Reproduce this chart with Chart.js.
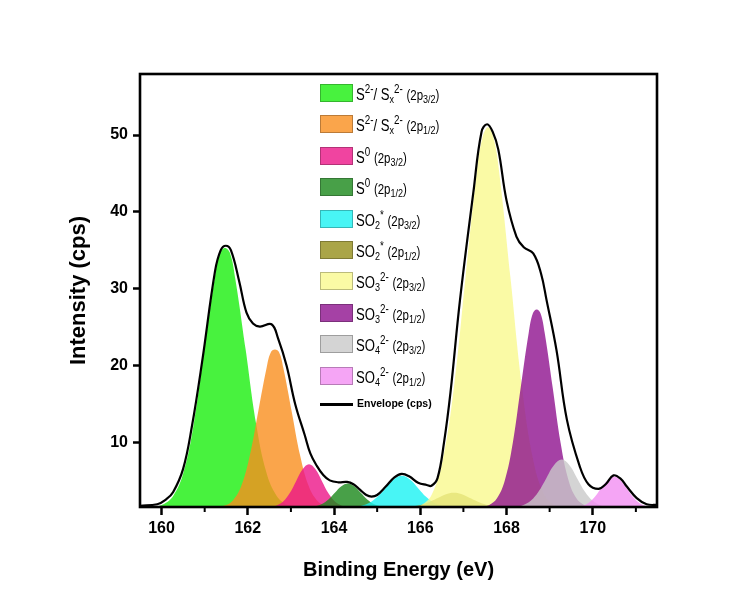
<!DOCTYPE html>
<html>
<head>
<meta charset="utf-8">
<script src="https://cdn.jsdelivr.net/npm/chart.js@4.4.1/dist/chart.umd.min.js"></script>
<style>
  html, body { margin: 0; padding: 0; background: #fff; }
  #wrap { position: relative; width: 750px; height: 603px; }
  .row { position: absolute; left: 320px; height: 18px; }
  .sw { position: absolute; left: 0; top: 0; width: 33px; height: 18px; box-sizing: border-box; border: 1px solid rgba(0,0,0,0.25); }
  .tx { position: absolute; left: 36px; top: 2px; white-space: nowrap; color: #000;
        font: 16px "Liberation Sans", Arial, sans-serif; line-height: 18px;
        transform: scaleX(0.82); transform-origin: left center; }
  .tx sup { font-size: 12px; vertical-align: 7px; line-height: 0; }
  .tx sub { font-size: 11px; vertical-align: -3px; line-height: 0; }
  .tx .p { font-size: 14px; }
  .env { position: absolute; left: 320px; top: 403px; width: 33px; height: 2.5px; background: #000; }
  .envtx { position: absolute; left: 357px; top: 397px; font: bold 10.5px "Liberation Sans", Arial, sans-serif; white-space: nowrap; }
</style>
</head>
<body>
<div id="wrap">
  <canvas id="c" width="750" height="603"></canvas>
</div>
<script>
// peak fits: [binding energy, intensity]
const s2_p32 = [[159.5,1.6],[159.8,1.65],[160.03,1.97],[160.27,3.08],[160.51,6.15],[160.75,12.55],[160.99,22.1],[161.23,31.3],[161.35,34.6],[161.47,35.3],[161.59,34.6],[161.71,31.3],[161.95,22.1],[162.19,12.55],[162.43,6.15],[162.67,3.08],[162.91,1.97],[163.2,1.65],[163.6,1.6]];
const s2_p12 = [[161.2,1.6],[161.46,1.83],[161.655,2.5],[161.85,4.4],[162.045,8.3],[162.24,14.0],[162.435,19.7],[162.53,21.7],[162.63,22.1],[162.73,21.7],[162.825,19.7],[163.02,14.0],[163.215,8.3],[163.41,4.4],[163.605,2.5],[163.8,1.83],[164.1,1.6]];
const s0_p32 = [[162.4,1.6],[162.52,1.66],[162.67,1.85],[162.82,2.36],[162.97,3.42],[163.12,5.0],[163.27,6.54],[163.42,7.2],[163.57,6.54],[163.72,5.0],[163.87,3.42],[164.02,2.36],[164.17,1.85],[164.32,1.66],[164.5,1.6]];
const s0_p12 = [[163.3,1.6],[163.42,1.63],[163.57,1.74],[163.72,2.02],[163.87,2.6],[164.02,3.48],[164.17,4.33],[164.32,4.7],[164.47,4.33],[164.62,3.48],[164.77,2.6],[164.92,2.02],[165.07,1.74],[165.22,1.63],[165.4,1.6]];
const so2_p32 = [[164.3,1.6],[164.43,1.65],[164.62,1.78],[164.81,2.15],[165.0,2.93],[165.19,4.09],[165.38,5.22],[165.57,5.7],[165.76,5.22],[165.95,4.09],[166.14,2.93],[166.33,2.15],[166.52,1.78],[166.71,1.65],[166.9,1.6]];
const so2_p12 = [[165.4,1.6],[165.58,1.62],[165.78,1.68],[165.98,1.86],[166.18,2.22],[166.38,2.75],[166.58,3.28],[166.78,3.5],[166.98,3.28],[167.18,2.75],[167.38,2.22],[167.58,1.86],[167.78,1.68],[167.98,1.62],[168.2,1.6]];
const so3_p32 = [[165.5,1.6],[165.75,1.63],[166.01,1.85],[166.27,3.3],[166.53,8.0],[166.79,17.65],[167.05,31.55],[167.31,45.2],[167.44,49.6],[167.57,51.0],[167.7,49.6],[167.83,45.2],[168.09,31.55],[168.35,17.65],[168.61,8.0],[168.87,3.3],[169.13,1.85],[169.39,1.63],[169.7,1.6]];
const so3_p12 = [[167.2,1.6],[167.4,1.65],[167.59,1.88],[167.775,2.73],[167.96,5.07],[168.145,9.95],[168.33,17.2],[168.515,24.3],[168.61,26.8],[168.7,27.3],[168.79,26.8],[168.885,24.3],[169.07,17.2],[169.255,9.95],[169.44,5.07],[169.625,2.73],[169.81,1.88],[170.0,1.65],[170.2,1.6]];
const so4_p32 = [[168.1,1.6],[168.2,1.67],[168.38,1.87],[168.56,2.44],[168.74,3.62],[168.92,5.36],[169.1,7.07],[169.28,7.8],[169.46,7.07],[169.64,5.36],[169.82,3.62],[170.0,2.44],[170.18,1.87],[170.36,1.67],[170.55,1.6]];
const so4_p12 = [[169.5,1.6],[169.59,1.64],[169.74,1.78],[169.89,2.14],[170.04,2.9],[170.19,4.03],[170.34,5.13],[170.49,5.6],[170.64,5.13],[170.79,4.03],[170.94,2.9],[171.09,2.14],[171.24,1.78],[171.39,1.64],[171.5,1.6]];
const envelope = [[159.5,1.8],[159.9,2.0],[160.1,2.6],[160.27,3.6],[160.5,6.6],[160.7,12.0],[160.94,20.5],[161.24,32.3],[161.37,35.0],[161.49,35.6],[161.61,35.0],[161.8,31.0],[161.97,26.9],[162.12,25.5],[162.28,25.1],[162.55,25.4],[162.7,23.6],[162.9,20.0],[163.1,15.0],[163.32,11.0],[163.45,8.6],[163.6,7.0],[163.75,5.8],[163.9,5.1],[164.1,4.85],[164.3,4.9],[164.45,4.6],[164.6,3.9],[164.75,3.2],[164.87,3.0],[165.0,3.2],[165.2,4.3],[165.4,5.5],[165.57,5.95],[165.75,5.6],[165.95,4.8],[166.15,4.5],[166.26,4.4],[166.4,5.4],[166.55,10.0],[166.7,16.5],[166.92,28.5],[167.23,42.5],[167.42,50.4],[167.55,51.4],[167.68,50.4],[167.81,48.1],[168.0,41.5],[168.23,36.8],[168.4,35.4],[168.62,34.6],[168.8,32.0],[168.93,28.5],[169.16,22.0],[169.4,13.0],[169.7,6.9],[169.9,4.6],[170.13,4.0],[170.3,4.6],[170.48,5.75],[170.65,5.3],[170.79,4.3],[171.02,2.8],[171.25,2.0],[171.5,1.9]];

const components = [s2_p32, s2_p12, s0_p32, s0_p12, so2_p32, so2_p12, so3_p32, so3_p12, so4_p32, so4_p12];
const seriesLabels = [
  'S<sup>2-</sup>/ S<sub>x</sub><sup>2-</sup> <span class="p">(2p<sub>3/2</sub>)</span>',
  'S<sup>2-</sup>/ S<sub>x</sub><sup>2-</sup> <span class="p">(2p<sub>1/2</sub>)</span>',
  'S<sup>0</sup> <span class="p">(2p<sub>3/2</sub>)</span>',
  'S<sup>0</sup> <span class="p">(2p<sub>1/2</sub>)</span>',
  'SO<sub>2</sub><sup>*</sup> <span class="p">(2p<sub>3/2</sub>)</span>',
  'SO<sub>2</sub><sup>*</sup> <span class="p">(2p<sub>1/2</sub>)</span>',
  'SO<sub>3</sub><sup>2-</sup> <span class="p">(2p<sub>3/2</sub>)</span>',
  'SO<sub>3</sub><sup>2-</sup> <span class="p">(2p<sub>1/2</sub>)</span>',
  'SO<sub>4</sub><sup>2-</sup> <span class="p">(2p<sub>3/2</sub>)</span>',
  'SO<sub>4</sub><sup>2-</sup> <span class="p">(2p<sub>1/2</sub>)</span>'
];
const fills = [
  'rgba(26,239,14,0.8)', 'rgba(249,142,30,0.8)', 'rgba(236,21,136,0.8)', 'rgba(26,136,26,0.8)',
  'rgba(26,242,242,0.8)', 'rgba(149,142,26,0.8)', 'rgba(249,249,143,0.8)', 'rgba(142,18,142,0.8)',
  'rgba(201,201,201,0.8)', 'rgba(242,142,242,0.8)'
];
const xTicks = [160, 162, 164, 166, 168, 170];
const xMinor = [161, 163, 165, 167, 169, 171];
const yTicks = [10, 20, 30, 40, 50];

// legend (html so the sub/superscripts stay real text)
const wrap = document.getElementById('wrap');
seriesLabels.forEach(function (lab, i) {
  const row = document.createElement('div');
  row.className = 'row';
  row.style.top = (84 + i * 31.4) + 'px';
  row.innerHTML = '<div class="sw" style="background:' + fills[i] + '"></div><div class="tx">' + lab + '</div>';
  wrap.appendChild(row);
});
const envLine = document.createElement('div');
envLine.className = 'env';
wrap.appendChild(envLine);
const envText = document.createElement('div');
envText.className = 'envtx';
envText.textContent = 'Envelope (cps)';
wrap.appendChild(envText);

const datasets = components.map(function (pts, i) {
  return {
    label: seriesLabels[i].replace(/<[^>]+>/g, ''),
    data: pts.map(p => ({x: p[0], y: p[1]})),
    fill: 'start',
    backgroundColor: fills[i],
    borderColor: 'transparent',
    borderWidth: 0,
    pointRadius: 0,
    tension: 0.4,
    order: components.length - i
  };
});
datasets.push({
  label: 'Envelope (cps)',
  data: envelope.map(p => ({x: p[0], y: p[1]})),
  fill: false,
  borderColor: '#000',
  borderWidth: 2.2,
  pointRadius: 0,
  tension: 0.4,
  order: 0
});

// box round the plot + short minor ticks on the x axis
const framePlugin = {
  id: 'frame',
  afterDraw(chart) {
    const ctx = chart.ctx, a = chart.chartArea, x = chart.scales.x;
    ctx.save();
    ctx.strokeStyle = '#000';
    ctx.lineWidth = 2;
    xMinor.forEach(function (v) {
      const px = x.getPixelForValue(v);
      ctx.beginPath();
      ctx.moveTo(px, a.bottom);
      ctx.lineTo(px, a.bottom + 5);
      ctx.stroke();
    });
    ctx.lineWidth = 2.6;
    ctx.strokeRect(a.left, a.top, a.right - a.left, a.bottom - a.top);
    ctx.restore();
  }
};

Chart.defaults.font.family = 'Arial, "Liberation Sans", sans-serif';
Chart.defaults.color = '#000';

new Chart(document.getElementById('c'), {
  type: 'line',
  data: { datasets: datasets },
  plugins: [framePlugin],
  options: {
    responsive: false,
    animation: false,
    layout: { padding: { left: 0, top: 74, right: 93, bottom: 0 } },
    plugins: { legend: { display: false }, tooltip: { enabled: false } },
    scales: {
      x: {
        type: 'linear',
        min: 159.5,
        max: 171.49,
        afterBuildTicks: s => { s.ticks = xTicks.map(v => ({value: v})); },
        afterFit: s => { s.height = 96; },
        ticks: { font: { size: 16, weight: 'bold' }, padding: 4, maxRotation: 0 },
        grid: { drawOnChartArea: false, tickLength: 8, tickWidth: 2.5, tickColor: '#000' },
        border: { display: false },
        title: { display: true, text: 'Binding Energy (eV)', font: { size: 20, weight: 'bold' }, padding: { bottom: 21 } }
      },
      y: {
        min: 1.64,
        max: 57.93,
        afterBuildTicks: s => { s.ticks = yTicks.map(v => ({value: v})); },
        afterFit: s => { s.width = 140; },
        ticks: { font: { size: 16, weight: 'bold' }, padding: 5 },
        grid: { drawOnChartArea: false, tickLength: 7, tickWidth: 2.5, tickColor: '#000' },
        border: { display: false },
        title: { display: true, text: 'Intensity (cps)', font: { size: 22, weight: 'bold' }, padding: { top: 66 } }
      }
    }
  }
});
</script>
</body>
</html>
